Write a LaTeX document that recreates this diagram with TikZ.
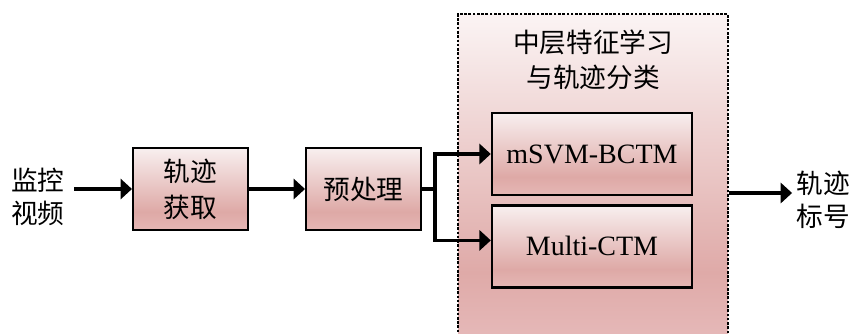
\documentclass[tikz,border=0pt]{standalone}
\usepackage{fontspec}
\setmainfont{Liberation Serif}
\newfontfamily\cjk{Noto Sans CJK SC}
\usetikzlibrary{arrows.meta,positioning,calc}
\definecolor{boxtop}{RGB}{248,239,239}
\definecolor{boxmid}{RGB}{222,169,166}
\definecolor{boxbot}{RGB}{229,183,181}
\definecolor{grptop}{RGB}{251,244,244}
\definecolor{grpmid}{RGB}{223,170,168}
\definecolor{grpbot}{RGB}{230,186,186}
\pgfdeclareverticalshading{boxshade}{100bp}{color(0bp)=(boxbot); color(25bp)=(boxbot);
  color(36bp)=(boxmid); color(75bp)=(boxtop); color(100bp)=(boxtop)}
\pgfdeclareverticalshading{grpshade}{100bp}{color(0bp)=(grpbot); color(25bp)=(grpbot);
  color(36bp)=(grpmid); color(75bp)=(grptop); color(100bp)=(grptop)}
\tikzset{
  blk/.style={draw=black,line width=1.8pt,shading=boxshade,
              minimum width=86pt,minimum height=61.5pt,inner sep=0pt,
              font=\cjk\fontsize{20}{27}\selectfont,align=center},
  blkwide/.style={blk,minimum width=150pt,font=\fontsize{21}{25}\selectfont},
  grp/.style={draw=black,line width=1.5pt,dash pattern=on 2pt off 1.2pt,
              shading=grpshade,minimum width=202.5pt,minimum height=248pt},
  lbl/.style={font=\cjk\fontsize{20}{25}\selectfont,align=center,inner sep=3pt},
  arr/.style={-{Triangle[length=8.5pt,width=15pt]},line width=2.8pt},
}
\begin{document}
\begin{tikzpicture}[x=0.75pt,y=-0.75pt]
  \useasboundingbox (0,0) rectangle (853,333);
  \node[grp] (grp) at (593,179.5) {};
  \node[lbl,font=\cjk\fontsize{20}{26}\selectfont] (ttl) at (593,60) {中层特征学习\\与轨迹分类};

  \node[lbl] (src) at (38,197) {监控\\视频};
  \node[blk] (trk) at (190.5,189) {轨迹\\获取};
  \node[blk,right=42pt of trk] (pre) {预处理};
  \node[blkwide] (msvm) at (592,154) {mSVM-BCTM};
  \node[blkwide,below=6pt of msvm] (mctm) {Multi-CTM};
  \node[lbl] (out) at (823,200) {轨迹\\标号};

  \draw[arr] ([xshift=4pt]src.east |- trk.west) -- (trk.west);
  \draw[arr] (trk) -- (pre);
  \draw[arr] (pre.east) -- ++(13,0) |- (msvm.west);
  \draw[arr] (pre.east) -- ++(13,0) |- ([yshift=4.5pt]mctm.west);
  \draw[arr] (grp.east |- 0,193) -- (out.west |- 0,193);
\end{tikzpicture}
\end{document}
